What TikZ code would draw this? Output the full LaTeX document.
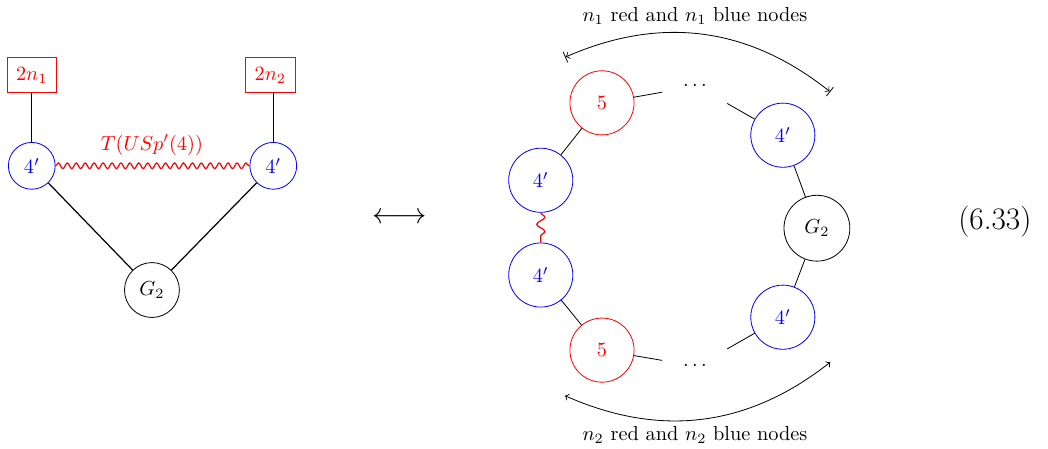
\documentclass[tikz,border=0pt]{standalone}
\usepackage{amsmath}
\usetikzlibrary{decorations.pathmorphing}

\begin{document}
\begin{tikzpicture}[
    blue4/.style={draw=blue, text=blue, circle, minimum size=0.81cm, inner sep=0pt},
    bigblue4/.style={draw=blue, text=blue, circle, minimum size=1.11cm, inner sep=0pt},
    red5/.style={draw=red, text=red, circle, minimum size=1.11cm, inner sep=0pt},
    gauge/.style={draw, circle, minimum size=0.95cm, inner sep=0pt},
    biggauge/.style={draw, circle, minimum size=1.14cm, inner sep=0pt},
    flavour/.style={draw=red, text=red, rectangle, minimum width=0.86cm, minimum height=0.6cm, inner sep=1pt},
    dotsnode/.style={circle, minimum size=1.2cm, inner sep=0pt},
    twist/.style={red, semithick, decorate, decoration={snake, amplitude=1.4pt, segment length=4.4pt}},
    vtwist/.style={red, semithick, decorate, decoration={snake, amplitude=2pt, segment length=7pt}},
    link/.style={semithick},
    span/.style={thin}
  ]
    \useasboundingbox (0,0) rectangle (18.14,-7.755);
    % left quiver
    \node[flavour] (f1) at (0.55,-1.30) {$2n_1$};
    \node[flavour] (f2) at (4.68,-1.30) {$2n_2$};
    \node[blue4] (a) at (0.55,-2.87) {$4'$};
    \node[blue4] (b) at (4.73,-2.87) {$4'$};
    \node[gauge] (g) at (2.63,-5.02) {$G_2$};
    \draw[link] (f1) -- (a);
    \draw[link] (f2.south -| b) -- (b);
    \draw[link] (a) -- (g);
    \draw[link] (b) -- (g);
    \draw[twist] (a) -- (b);
    \node[red] (tlab) at (2.63,-2.51) {$T(USp'(4))$};

    \node (equiv) at (6.92,-3.77) {\fontsize{15.4}{18}\selectfont$\longleftrightarrow$};

    % right quiver
    \node[red5] (t5) at (10.42,-1.78) {$5$};
    \node[dotsnode] (tdots) at (12.06,-1.49) {$\cdots$};
    \node[bigblue4] (tr) at (13.55,-2.34) {$4'$};
    \node[biggauge] (g2) at (14.14,-3.95) {$G_2$};
    \node[bigblue4] (br) at (13.55,-5.49) {$4'$};
    \node[dotsnode] (bdots) at (12.06,-6.34) {$\cdots$};
    \node[red5] (b5) at (10.42,-6.06) {$5$};
    \node[bigblue4] (la) at (9.36,-3.12) {$4'$};
    \node[bigblue4] (lb) at (9.36,-4.76) {$4'$};
    \draw (la) -- (t5);
    \draw (t5) -- (tdots);
    \draw (tdots) -- (tr);
    \draw (tr) -- (g2);
    \draw (g2) -- (br);
    \draw (br) -- (bdots);
    \draw (bdots) -- (b5);
    \draw (b5) -- (lb);
    \draw[vtwist] (la) -- (lb);

    % counting arrows
    \coordinate (u1) at (9.78,-0.99);
    \coordinate (u2) at (14.37,-1.59);
    \coordinate (d1) at (9.78,-6.85);
    \coordinate (d2) at (14.37,-6.27);
    \draw[span, |<->|] (u1) to[bend left=31] (u2);
    \draw[span, <->] (d1) to[bend right=31] (d2);
    \node (toplab) at (12.03,-0.28) {$n_1$ red and $n_1$ blue nodes};
    \node (botlab) at (12.03,-7.53) {$n_2$ red and $n_2$ blue nodes};

    \node (eqno) at (17.22,-3.84) {\fontsize{15.4}{18}\selectfont(6.33)};
  \end{tikzpicture}
\end{document}
